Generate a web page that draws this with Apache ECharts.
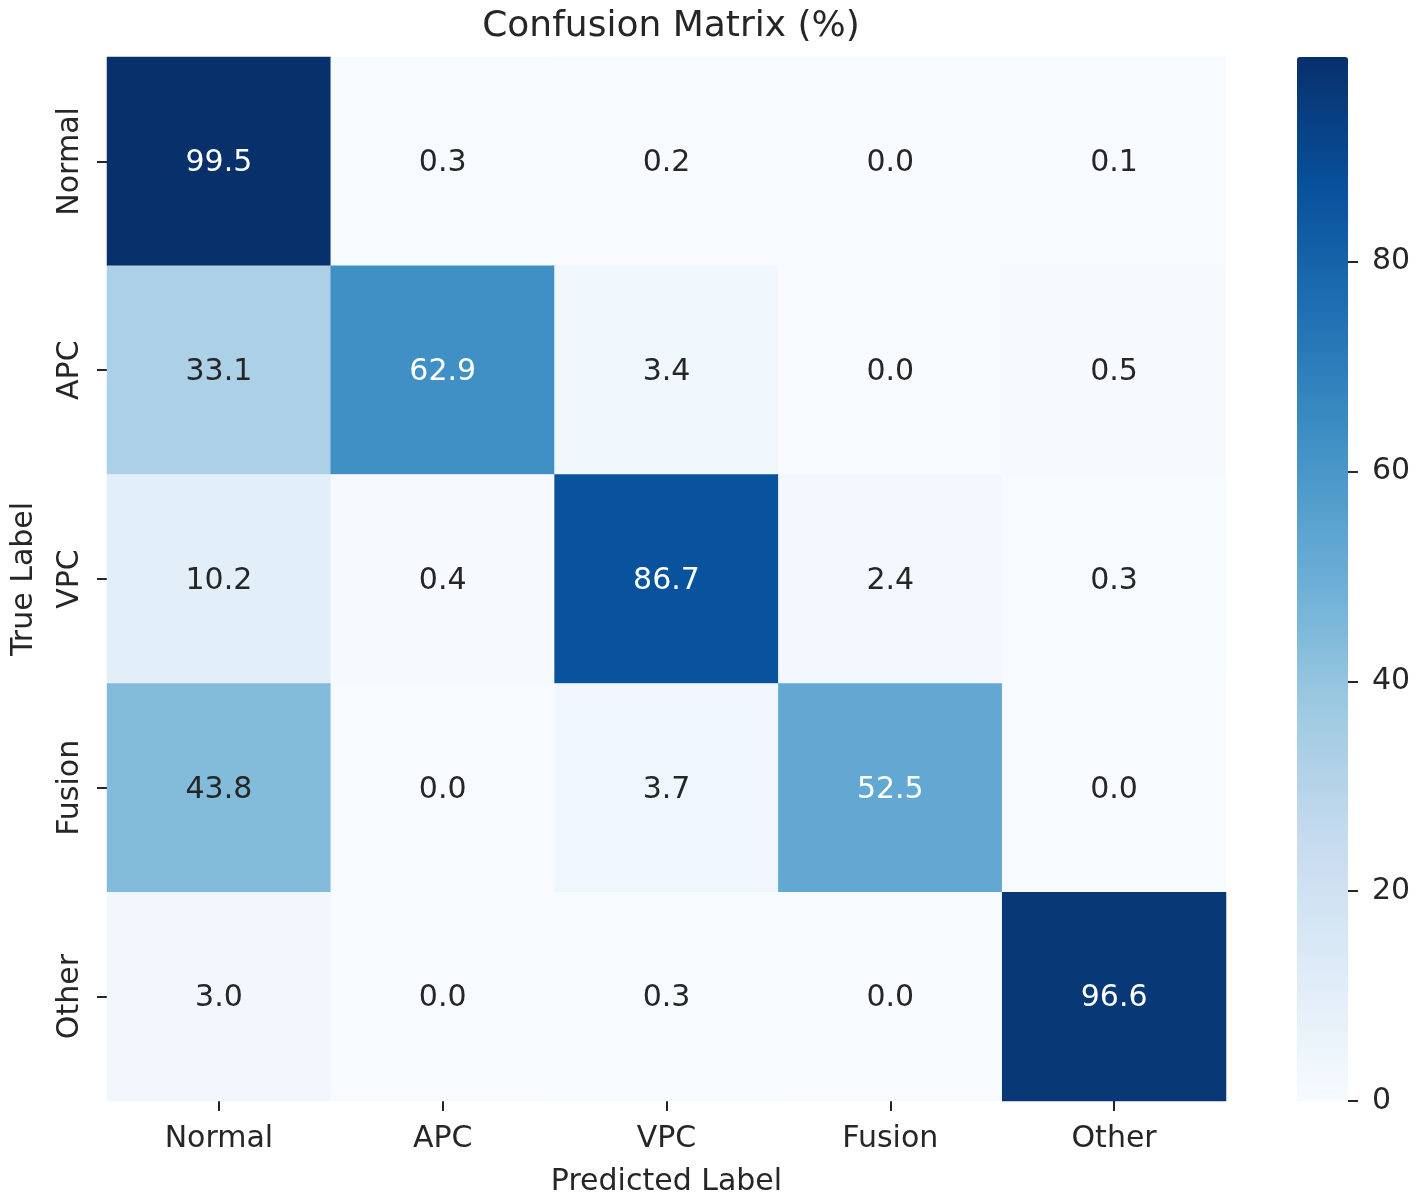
<!DOCTYPE html>
<html>
<head>
<meta charset="utf-8">
<script src="https://cdn.jsdelivr.net/npm/echarts@6/dist/echarts.min.js"></script>
<style>html,body{margin:0;padding:0;background:#fff}#c{width:1417px;height:1201px}</style>
</head>
<body>
<div id="c"></div>
<script>
var predLabels = ['Normal', 'APC', 'VPC', 'Fusion', 'Other'];
var trueLabels = ['Normal', 'APC', 'VPC', 'Fusion', 'Other'];
var rowNormal = [99.5, 0.3, 0.2, 0.0, 0.1];
var rowAPC    = [33.1, 62.9, 3.4, 0.0, 0.5];
var rowVPC    = [10.2, 0.4, 86.7, 2.4, 0.3];
var rowFusion = [43.8, 0.0, 3.7, 52.5, 0.0];
var rowOther  = [3.0, 0.0, 0.3, 0.0, 96.6];
var colorbarTicks = [0, 20, 40, 60, 80];
var vMax = 99.5;

var rows = [rowNormal, rowAPC, rowVPC, rowFusion, rowOther];
var blues = ['#f7fbff','#deebf7','#c6dbef','#9ecae1','#6baed6','#4292c6','#2171b5','#08519c','#08306b'];
var txt = '#262626';

var data = [];
rows.forEach(function (r, i) {
  r.forEach(function (v, j) {
    data.push({
      value: [j, i, v],
      label: { color: v >= 50 ? '#ffffff' : txt }
    });
  });
});

var chart = echarts.init(document.getElementById('c'));
chart.setOption({
  animation: false,
  backgroundColor: '#fff',
  textStyle: { fontFamily: 'DejaVu Sans' },
  title: {
    text: 'Confusion Matrix (%)',
    left: 666, top: 4, textAlign: 'center',
    textStyle: { fontSize: 36, fontWeight: 'normal', color: txt, fontFamily: 'DejaVu Sans' }
  },
  grid: [
    { left: 107, right: 191, top: 57, bottom: 100, outerBoundsMode: 'none', containLabel: false },
    { left: 1348, width: 1, top: 57, height: 1044, outerBoundsMode: 'none', containLabel: false }
  ],
  xAxis: [
    {
      gridIndex: 0, type: 'category', data: predLabels,
      name: 'Predicted Label', nameLocation: 'middle', nameGap: 66,
      nameTextStyle: { fontSize: 30, color: txt },
      axisLine: { show: false },
      axisTick: { show: true, alignWithLabel: true, length: 10, lineStyle: { color: txt, width: 2 } },
      axisLabel: { fontSize: 30, color: txt, margin: 23 },
      splitLine: { show: false }
    },
    { gridIndex: 1, type: 'value', show: false, min: 0, max: 1 }
  ],
  yAxis: [
    {
      gridIndex: 0, type: 'category', data: trueLabels, inverse: true,
      name: 'True Label', nameLocation: 'middle', nameGap: 68,
      nameTextStyle: { fontSize: 30, color: txt },
      axisLine: { show: false },
      axisTick: { show: true, alignWithLabel: true, length: 10, lineStyle: { color: txt, width: 2 } },
      axisLabel: { fontSize: 30, color: txt, rotate: 90, margin: 22 },
      splitLine: { show: false }
    },
    {
      gridIndex: 1, type: 'value', position: 'left', min: 0, max: vMax, interval: 20,
      axisLine: { show: false },
      axisTick: { show: true, inside: true, length: 10, customValues: colorbarTicks, lineStyle: { color: txt, width: 2 } },
      axisLabel: {
        inside: true, fontSize: 30, color: txt, margin: 24, customValues: colorbarTicks,
        formatter: function (v) { return colorbarTicks.indexOf(v) >= 0 ? String(v) : ''; }
      },
      splitLine: { show: false },
      z: 10
    }
  ],
  visualMap: {
    type: 'continuous', min: 0, max: vMax, dimension: 2, seriesIndex: 0,
    orient: 'vertical', left: 1297, top: 57, itemWidth: 51, itemHeight: 1044,
    padding: 0, calculable: false, realtime: false, hoverLink: false,
    text: null, textStyle: { fontSize: 0 },
    inRange: { color: blues }
  },
  series: [
    {
      type: 'heatmap', xAxisIndex: 0, yAxisIndex: 0, data: data,
      label: {
        show: true, fontSize: 30, fontFamily: 'DejaVu Sans', offset: [0, 2],
        formatter: function (p) { return p.value[2].toFixed(1); }
      },
      itemStyle: { borderWidth: 0 },
      emphasis: { disabled: true }
    }
  ]
});
</script>
</body>
</html>
